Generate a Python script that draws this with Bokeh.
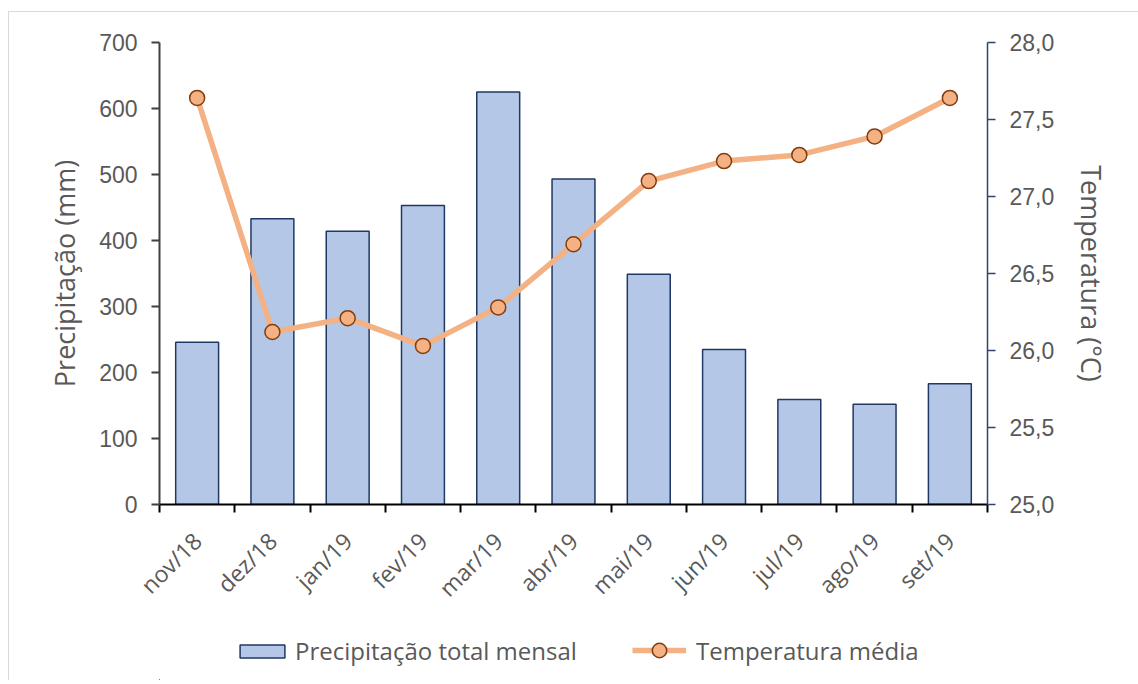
from bokeh.plotting import figure
from bokeh.models import (Range1d, LinearAxis, FixedTicker, CustomJSTickFormatter,
                          Legend, LegendItem, ColumnDataSource)
from bokeh.layouts import column
from bokeh.embed import file_html
from bokeh.resources import INLINE
import math

months = ["nov/18", "dez/18", "jan/19", "fev/19", "mar/19", "abr/19",
          "mai/19", "jun/19", "jul/19", "ago/19", "set/19"]
precip = [246, 433, 414, 453, 625, 493, 349, 235, 159, 152, 183]
temp = [27.64, 26.12, 26.21, 26.03, 26.28, 26.69, 27.10, 27.23, 27.27, 27.39, 27.64]
series_names = ["Precipitação total mensal", "Temperatura média"]

xs = [i + 0.5 for i in range(len(months))]
src = ColumnDataSource(dict(x=xs, precip=precip, temp=temp))

TICK_FONT = "Liberation Sans"
TXT_FONT = "Open Sans"
GRAY = "#595959"
BAR_FILL, BAR_LINE = "#b4c7e7", "#1f3864"
LINE_C, MARK_LINE = "#f4b183", "#843c0c"

p = figure(width=1129, height=608, output_backend="svg", toolbar_location=None,
           x_range=Range1d(0, len(months)), y_range=Range1d(0, 700),
           min_border_left=150, min_border_right=151, min_border_top=30,
           min_border_bottom=116, x_axis_location=None, y_axis_location=None)
p.frame_width = 828
p.frame_height = 462
p.outline_line_color = None
p.grid.grid_line_color = None
p.background_fill_color = "white"
p.border_fill_color = "white"

p.extra_y_ranges = {"temp": Range1d(25, 28)}

# bottom axis
xax = LinearAxis(ticker=FixedTicker(ticks=xs, minor_ticks=list(range(len(months) + 1))))
xax.major_label_overrides = {x: m for x, m in zip(xs, months)}
xax.major_label_orientation = math.pi / 4
xax.major_tick_out = 0
xax.major_tick_in = 0
xax.minor_tick_out = 8
xax.minor_tick_in = 0
xax.minor_tick_line_color = "black"
xax.minor_tick_line_width = 2
xax.axis_line_color = "black"
xax.axis_line_width = 2
xax.major_label_text_font = TXT_FONT
xax.major_label_text_font_size = "23px"
xax.major_label_text_color = GRAY
xax.major_label_standoff = 24
p.add_layout(xax, "below")

# left axis
yax = LinearAxis(ticker=FixedTicker(ticks=list(range(0, 701, 100))))
yax.axis_label = "Precipitação (mm)"
yax.axis_label_text_font = TXT_FONT
yax.axis_label_text_font_style = "normal"
yax.axis_label_text_font_size = "27px"
yax.axis_label_text_color = GRAY
yax.axis_label_standoff = 13
yax.major_tick_out = 8
yax.major_tick_in = 0
yax.minor_tick_line_color = None
yax.axis_line_color = "#404040"
yax.axis_line_width = 2
yax.major_tick_line_color = "#404040"
yax.major_tick_line_width = 2
yax.major_label_text_font = TICK_FONT
yax.major_label_text_font_size = "23px"
yax.major_label_text_color = GRAY
yax.major_label_standoff = 14
p.add_layout(yax, "left")

# right axis
rax = LinearAxis(y_range_name="temp",
                 ticker=FixedTicker(ticks=[25, 25.5, 26, 26.5, 27, 27.5, 28]),
                 formatter=CustomJSTickFormatter(code="return tick.toFixed(1).replace('.', ',');"))
rax.axis_label = "Temperatura (°C)"
rax.axis_label_text_font = TXT_FONT
rax.axis_label_text_font_style = "normal"
rax.axis_label_text_font_size = "27px"
rax.axis_label_text_color = GRAY
rax.axis_label_standoff = 16
rax.major_tick_out = 8
rax.major_tick_in = 0
rax.minor_tick_line_color = None
rax.axis_line_color = "#2f4470"
rax.axis_line_width = 1.5
rax.major_tick_line_color = "#2f4470"
rax.major_tick_line_width = 1.5
rax.major_label_text_font = TICK_FONT
rax.major_label_text_font_size = "23px"
rax.major_label_text_color = GRAY
rax.major_label_standoff = 14
p.add_layout(rax, "right")

p.vbar(x="x", top="precip", width=0.57, source=src,
       fill_color=BAR_FILL, line_color=BAR_LINE, line_width=1.5)
p.line(x="x", y="temp", source=src, y_range_name="temp",
       line_color=LINE_C, line_width=5.5)
p.scatter(x="x", y="temp", source=src, y_range_name="temp", size=15,
          fill_color=LINE_C, line_color=MARK_LINE, line_width=1.5)

# legend strip (separate figure so the legend is not clipped); its ranges keep
# the series' own marks out of view, only the legend glyphs show
lf = figure(width=1129, height=60, output_backend="svg", toolbar_location=None,
            x_range=Range1d(1000, 1001), y_range=Range1d(1000, 1001), min_border=0,
            x_axis_location=None, y_axis_location=None)
lf.outline_line_color = None
lf.grid.grid_line_color = None
lb = lf.vbar(x="x", top="precip", width=0.57, source=src,
             fill_color=BAR_FILL, line_color=BAR_LINE, line_width=1.5)
ll = lf.line(x="x", y="temp", source=src, line_color=LINE_C, line_width=5.5)
ls = lf.scatter(x="x", y="temp", source=src, size=15,
                fill_color=LINE_C, line_color=MARK_LINE, line_width=1.5)


def style_legend(lg, gw, gh, standoff):
    lg.orientation = "horizontal"
    lg.glyph_width = gw
    lg.glyph_height = gh
    lg.label_standoff = standoff
    lg.padding = 0
    lg.margin = 0
    lg.border_line_color = None
    lg.background_fill_alpha = 0
    lg.label_text_font = TXT_FONT
    lg.label_text_font_size = "24px"
    lg.label_text_color = GRAY
    lg.label_height = 16


leg1 = Legend(items=[LegendItem(label=series_names[0], renderers=[lb])], location=(75, 13))
style_legend(leg1, 56, 16, 5)
leg2 = Legend(items=[LegendItem(label=series_names[1], renderers=[ll, ls])], location=(473, 12))
style_legend(leg2, 54, 36, 10)
lf.add_layout(leg1, "center")
lf.add_layout(leg2, "center")

layout = column(p, lf, spacing=0,
                styles={"margin-left": "8px", "margin-top": "11px",
                        "border-top": "1px solid #d9d9d9", "border-left": "1px solid #d9d9d9"})

open("out.html", "w").write(file_html(layout, INLINE))
